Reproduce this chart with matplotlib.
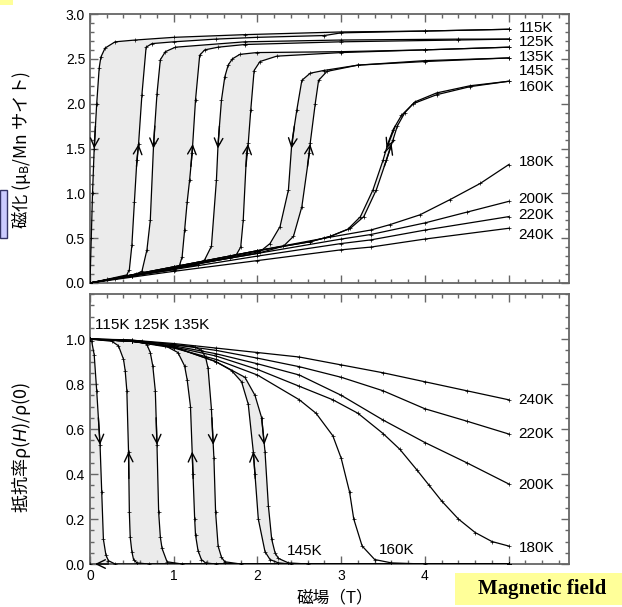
import numpy as np
import matplotlib.pyplot as plt
from matplotlib.patches import Rectangle
from matplotlib.ticker import MultipleLocator

plt.rcParams.update({
    'font.family': ['Liberation Sans', 'Noto Sans CJK JP', 'DejaVu Sans'],
    'mathtext.fontset': 'custom',
    'mathtext.rm': 'Noto Sans CJK JP',
    'mathtext.it': 'Liberation Sans:italic',
    'font.size': 10,
})

# ==========================================
# MAGNETIZATION M(H)  [mu_B / Mn]
# ==========================================
H_m115_up = [0, 0.2, 0.44, 0.47, 0.50, 0.53, 0.56, 0.58, 0.62, 0.67, 0.74, 1.0, 1.5, 2.0, 2.8, 3.0, 4.0, 5.0]
M_m115_up = [0, 0.04, 0.09, 0.15, 0.42, 0.90, 1.37, 1.55, 2.10, 2.63, 2.67, 2.69, 2.72, 2.74, 2.76, 2.79, 2.81, 2.83]
H_m115_dn = [5.0, 4.0, 3.0, 1.85, 1.0, 0.54, 0.30, 0.18, 0.13, 0.11, 0.08, 0.05, 0.03, 0.015, 0]
M_m115_dn = [2.83, 2.81, 2.80, 2.77, 2.74, 2.71, 2.69, 2.62, 2.52, 2.40, 2.0, 1.5, 1.0, 0.5, 0]

H_m125_up = [0, 0.5, 1.02, 1.07, 1.10, 1.13, 1.16, 1.19, 1.22, 1.26, 1.31, 1.37, 1.53, 1.85, 3.0, 4.4, 5.0]
M_m125_up = [0, 0.08, 0.15, 0.20, 0.29, 0.59, 0.90, 1.15, 1.45, 2.04, 2.54, 2.60, 2.63, 2.66, 2.69, 2.71, 2.72]
H_m125_dn = [5.0, 4.4, 3.0, 1.85, 1.02, 0.90, 0.84, 0.80, 0.76, 0.72, 0.68, 0.62, 0.55, 0.3, 0]
M_m125_dn = [2.72, 2.72, 2.71, 2.69, 2.63, 2.58, 2.49, 2.11, 1.56, 0.70, 0.37, 0.13, 0.10, 0.05, 0]

H_m135_up = [0, 0.5, 1.0, 1.67, 1.75, 1.80, 1.83, 1.87, 1.89, 1.92, 1.96, 2.03, 2.23, 3.0, 4.0, 5.0]
M_m135_up = [0, 0.08, 0.16, 0.28, 0.32, 0.40, 0.70, 1.45, 1.56, 1.93, 2.37, 2.47, 2.53, 2.57, 2.60, 2.63]
H_m135_dn = [5.0, 4.0, 3.0, 1.99, 1.79, 1.70, 1.65, 1.61, 1.57, 1.53, 1.51, 1.45, 1.37, 1.29, 1.0, 0.5, 0]
M_m135_dn = [2.63, 2.60, 2.58, 2.57, 2.55, 2.50, 2.43, 2.30, 2.04, 1.56, 1.15, 0.41, 0.26, 0.20, 0.16, 0.08, 0]

H_m145_up = [0, 1.0, 2.0, 2.31, 2.43, 2.53, 2.62, 2.63, 2.69, 2.73, 2.83, 3.2, 4.0, 5.0]
M_m145_up = [0, 0.17, 0.33, 0.41, 0.52, 0.85, 1.45, 1.56, 2.00, 2.26, 2.36, 2.43, 2.47, 2.51]
H_m145_dn = [5.0, 4.0, 3.2, 2.79, 2.63, 2.53, 2.47, 2.41, 2.37, 2.27, 2.15, 2.03, 1.0, 0]
M_m145_dn = [2.51, 2.48, 2.43, 2.37, 2.34, 2.26, 1.93, 1.56, 1.04, 0.63, 0.44, 0.35, 0.17, 0]

H_m160_up = [0, 1.0, 2.0, 2.63, 2.87, 3.11, 3.27, 3.42, 3.54, 3.62, 3.67, 3.76, 3.88, 4.14, 4.54, 5.0]
M_m160_up = [0, 0.18, 0.36, 0.46, 0.52, 0.61, 0.74, 1.04, 1.37, 1.60, 1.75, 1.90, 2.02, 2.12, 2.20, 2.25]
H_m160_dn = [5.0, 4.54, 4.14, 3.86, 3.72, 3.62, 3.56, 3.50, 3.38, 3.23, 3.08, 2.87, 2.63, 2.0, 1.0, 0]
M_m160_dn = [2.25, 2.19, 2.10, 2.00, 1.87, 1.71, 1.56, 1.37, 1.04, 0.74, 0.60, 0.52, 0.46, 0.36, 0.18, 0]

H_m180 = [0, 1.0, 1.67, 2.0, 2.8, 3.35, 3.58, 3.94, 4.30, 4.66, 5.0]
M_m180 = [0, 0.18, 0.30, 0.36, 0.50, 0.59, 0.65, 0.76, 0.93, 1.11, 1.32]
H_m200 = [0, 1.0, 2.0, 3.0, 3.35, 4.0, 4.5, 5.0]
M_m200 = [0, 0.17, 0.33, 0.49, 0.54, 0.67, 0.79, 0.91]
H_m220 = [0, 1.0, 2.0, 3.0, 3.35, 4.0, 5.0]
M_m220 = [0, 0.15, 0.30, 0.44, 0.48, 0.59, 0.74]
H_m240 = [0, 1.0, 2.0, 3.0, 3.35, 4.0, 5.0]
M_m240 = [0, 0.13, 0.25, 0.37, 0.40, 0.49, 0.61]

# ==========================================
# RESISTIVITY rho(H)/rho(0)
# ==========================================
H_r115_up = [0, 0.02, 0.05, 0.08, 0.12, 0.14, 0.16, 0.19, 0.22, 0.3, 5.0]
R_r115_up = [1.0, 0.99, 0.93, 0.77, 0.53, 0.32, 0.11, 0.04, 0.015, 0, 0]
H_r115_dn = [5.0, 0]
R_r115_dn = [0, 0]

H_r125_up = [0, 0.4, 0.62, 0.68, 0.72, 0.75, 0.78, 0.80, 0.82, 0.84, 0.86, 0.92, 1.1, 5.0]
R_r125_up = [1.0, 0.997, 0.99, 0.975, 0.94, 0.88, 0.77, 0.53, 0.23, 0.12, 0.07, 0.01, 0, 0]
H_r125_dn = [5.0, 0.7, 0.56, 0.52, 0.50, 0.48, 0.47, 0.46, 0.44, 0.42, 0.40, 0.34, 0.26, 0]
R_r125_dn = [0, 0, 0.005, 0.02, 0.055, 0.12, 0.23, 0.50, 0.77, 0.86, 0.91, 0.97, 0.99, 1.0]

H_r135_up = [0, 0.5, 1.0, 1.25, 1.33, 1.38, 1.41, 1.45, 1.48, 1.50, 1.53, 1.57, 1.61, 1.8, 5.0]
R_r135_up = [1.0, 0.995, 0.975, 0.965, 0.95, 0.92, 0.87, 0.69, 0.47, 0.23, 0.08, 0.03, 0.01, 0, 0]
H_r135_dn = [5.0, 1.5, 1.38, 1.33, 1.29, 1.26, 1.25, 1.23, 1.20, 1.16, 1.13, 1.05, 0.9, 0.5, 0]
R_r135_dn = [0, 0, 0.005, 0.02, 0.06, 0.13, 0.20, 0.40, 0.70, 0.82, 0.88, 0.94, 0.97, 0.99, 1.0]

H_r145_up = [0, 0.5, 1.0, 1.5, 1.85, 1.97, 2.05, 2.09, 2.13, 2.17, 2.21, 2.25, 2.37, 2.6, 5.0]
R_r145_up = [1.0, 0.99, 0.965, 0.90, 0.83, 0.75, 0.65, 0.50, 0.26, 0.11, 0.05, 0.025, 0.005, 0, 0]
H_r145_dn = [5.0, 2.4, 2.25, 2.15, 2.09, 2.01, 1.97, 1.95, 1.89, 1.81, 1.69, 1.5, 1.0, 0.5, 0]
R_r145_dn = [0, 0, 0.005, 0.02, 0.055, 0.20, 0.40, 0.50, 0.71, 0.81, 0.86, 0.90, 0.965, 0.99, 1.0]

H_r160 = [0, 0.5, 1.0, 1.5, 2.0, 2.5, 2.7, 2.9, 3.0, 3.1, 3.15, 3.25, 3.4, 3.6, 4.0, 5.0]
R_r160 = [1.0, 0.99, 0.96, 0.91, 0.84, 0.73, 0.67, 0.57, 0.47, 0.32, 0.20, 0.08, 0.02, 0.005, 0, 0]
H_r180 = [0, 0.5, 1.0, 1.5, 2.0, 2.5, 2.9, 3.2, 3.5, 3.7, 3.9, 4.05, 4.2, 4.4, 4.6, 4.8, 5.0]
R_r180 = [1.0, 0.99, 0.965, 0.925, 0.865, 0.79, 0.73, 0.67, 0.58, 0.51, 0.42, 0.35, 0.28, 0.20, 0.14, 0.10, 0.08]
H_r200 = [0, 0.5, 1.0, 1.5, 2.0, 2.5, 3.0, 3.5, 4.0, 4.5, 5.0]
R_r200 = [1.0, 0.99, 0.97, 0.935, 0.89, 0.84, 0.75, 0.64, 0.54, 0.45, 0.356]
H_r220 = [0, 0.5, 1.0, 1.5, 2.0, 2.5, 3.0, 3.5, 4.0, 4.5, 5.0]
R_r220 = [1.0, 0.993, 0.975, 0.95, 0.915, 0.877, 0.83, 0.77, 0.69, 0.635, 0.578]
H_r240 = [0, 0.5, 1.0, 1.5, 2.0, 2.5, 3.0, 3.5, 4.0, 4.5, 5.0]
R_r240 = [1.0, 0.995, 0.98, 0.96, 0.94, 0.92, 0.885, 0.85, 0.81, 0.77, 0.73]

# labels (text, y position in data units)
m_labels = [('115K', 2.84), ('125K', 2.69), ('135K', 2.52), ('145K', 2.36), ('160K', 2.19),
            ('180K', 1.35), ('200K', 0.94), ('220K', 0.76), ('240K', 0.535)]
r_labels = [('240K', 0.729), ('220K', 0.578), ('200K', 0.351), ('180K', 0.071)]

SHADE = '#ebebeb'
LINE = dict(color='black', lw=0.9, marker='+', ms=2.5, mew=0.5)
ARROW = dict(arrowstyle='->,head_length=0.45,head_width=0.22', color='black',
             lw=1.0, shrinkA=0, shrinkB=0, mutation_scale=14)


def h_at(hs, ys, level):
    hs = np.asarray(hs, float)
    ys = np.asarray(ys, float)
    if ys[0] > ys[-1]:
        hs, ys = hs[::-1], ys[::-1]
    return np.interp(level, ys, hs)


def arrow(ax, hs, ys, level, sign, d):
    """Open arrowhead on a branch; sign=+1 points up, -1 points down."""
    tail = level - sign * d
    ax.annotate('', xy=(h_at(hs, ys, level), level),
                xytext=(h_at(hs, ys, tail), tail), arrowprops=ARROW)


def loop(ax, hu, yu, hd, yd):
    ax.fill(list(hu) + list(hd), list(yu) + list(yd), color=SHADE, lw=0, zorder=1)
    ax.plot(hu, yu, zorder=3, **LINE)
    ax.plot(hd, yd, zorder=3, **LINE)


def style(ax):
    for s in ax.spines.values():
        s.set_color('#666666')
        s.set_linewidth(1.3)
    ax.xaxis.set_major_locator(MultipleLocator(1))
    ax.xaxis.set_minor_locator(MultipleLocator(0.2))
    ax.tick_params(which='both', direction='in', top=True, right=True,
                   color='#666666', width=1.0, labelsize=10)
    ax.tick_params(which='major', length=6)
    ax.tick_params(which='minor', length=3)
    ax.set_xlim(0, 5.72)


fig = plt.figure(figsize=(6.22, 6.07), dpi=100)
ax1 = fig.add_axes([0.1447, 0.5338, 0.770, 0.4431])
ax2 = fig.add_axes([0.1447, 0.0708, 0.770, 0.4448])

# ---------------- top: magnetization ----------------
m_loops = [(H_m115_up, M_m115_up, H_m115_dn, M_m115_dn),
           (H_m125_up, M_m125_up, H_m125_dn, M_m125_dn),
           (H_m135_up, M_m135_up, H_m135_dn, M_m135_dn),
           (H_m145_up, M_m145_up, H_m145_dn, M_m145_dn),
           (H_m160_up, M_m160_up, H_m160_dn, M_m160_dn)]
for hu, mu, hd, md in m_loops:
    loop(ax1, hu, mu, hd, md)
    arrow(ax1, hu, mu, 1.55, +1, 0.25)
    arrow(ax1, hd, md, 1.50, -1, 0.25)
for h, m in [(H_m180, M_m180), (H_m200, M_m200), (H_m220, M_m220), (H_m240, M_m240)]:
    ax1.plot(h, m, zorder=3, **LINE)
for txt, y in m_labels:
    ax1.text(5.12, y, txt, va='center', ha='left', fontsize=11)

style(ax1)
ax1.set_ylim(0, 3.0)
ax1.yaxis.set_major_locator(MultipleLocator(0.5))
ax1.yaxis.set_minor_locator(MultipleLocator(0.1))
ax1.yaxis.set_major_formatter(plt.FormatStrFormatter('%.1f'))
ax1.tick_params(labelbottom=False)
ax1.set_ylabel('磁化 (μ$_\\mathregular{B}$/Mn サイト)', fontsize=12.5,
               family='Noto Sans CJK JP')
ax1.yaxis.set_label_coords(-0.118, 0.494)

# ---------------- bottom: resistivity ----------------
r_loops = [(H_r125_up, R_r125_up, H_r125_dn, R_r125_dn),
           (H_r135_up, R_r135_up, H_r135_dn, R_r135_dn),
           (H_r145_up, R_r145_up, H_r145_dn, R_r145_dn)]
loop(ax2, H_r115_up, R_r115_up, H_r115_dn, R_r115_dn)
arrow(ax2, H_r115_up, R_r115_up, 0.53, -1, 0.12)
ax2.annotate('', xy=(0.06, R_r115_dn[-1]), xytext=(0.22, R_r115_dn[0]), arrowprops=ARROW)
for hu, ru, hd, rd in r_loops:
    loop(ax2, hu, ru, hd, rd)
    arrow(ax2, hu, ru, 0.53, -1, 0.12)
    arrow(ax2, hd, rd, 0.50, +1, 0.12)
for h, r in [(H_r160, R_r160), (H_r180, R_r180), (H_r200, R_r200),
             (H_r220, R_r220), (H_r240, R_r240)]:
    ax2.plot(h, r, zorder=3, **LINE)
for txt, y in r_labels:
    ax2.text(5.12, y, txt, va='center', ha='left', fontsize=11)
ax2.text(0.06, 1.062, '115K 125K 135K', va='center', ha='left', fontsize=11)
ax2.text(2.35, 0.059, '145K', va='center', ha='left', fontsize=11)
ax2.text(3.45, 0.062, '160K', va='center', ha='left', fontsize=11)

style(ax2)
ax2.set_ylim(0, 1.2)
ax2.yaxis.set_minor_locator(MultipleLocator(0.05))
ax2.set_yticks([0, 0.2, 0.4, 0.6, 0.8, 1.0])
ax2.yaxis.set_major_formatter(plt.FormatStrFormatter('%.1f'))
ax2.set_xticks([0, 1, 2, 3, 4, 5])
ax2.set_xticklabels(['0', '1', '2', '3', '4', ''])
ax2.set_ylabel('抵抗率ρ($\\mathit{H}$)/ρ(0)', fontsize=13, family='Noto Sans CJK JP')
ax2.yaxis.set_label_coords(-0.118, 0.433)
ax2.set_xlabel('磁場（T）', fontsize=12)
ax2.xaxis.set_label_coords(0.511, -0.094)

# slide decorations
fig.patches.append(Rectangle((0, 1 - 5 / 607), 13 / 622, 5 / 607, transform=fig.transFigure,
                             facecolor='#ffff99', edgecolor='none'))
fig.patches.append(Rectangle((0, 1 - 238 / 607), 7 / 622, 48 / 607, transform=fig.transFigure,
                             facecolor='#ccccff', edgecolor='#333366', lw=1))
fig.patches.append(Rectangle((455 / 622, 2 / 607), 167 / 622, 32 / 607, transform=fig.transFigure,
                             facecolor='#ffff99', edgecolor='none', zorder=5))
fig.text(0.871, 0.0297, 'Magnetic field', family='Liberation Serif', weight='bold',
         fontsize=15, ha='center', va='center', zorder=6)

fig.savefig('out.png', dpi=100)
